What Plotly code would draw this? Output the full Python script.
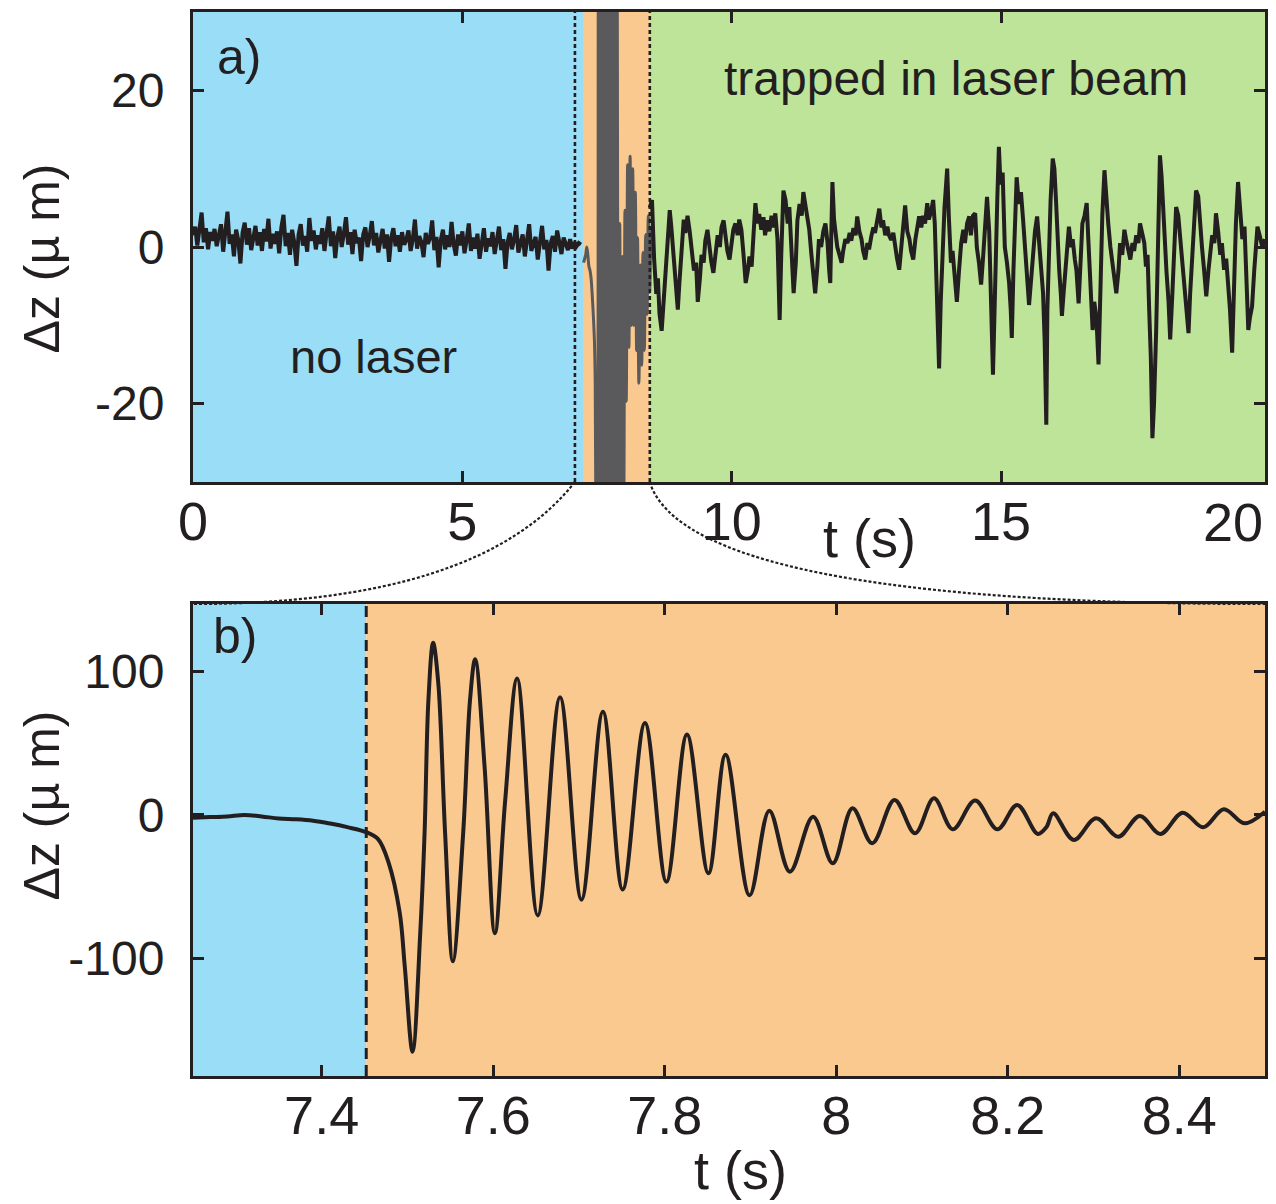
import plotly.graph_objects as go

# ---------------- data ----------------
# (a) free particle before the laser is switched on, sampled every 0.04 s from t = 0
free_dt = 0.04
free_z = [
    1.5, 2.6, 0.2, 2.2, 4.4, 0.6, 2.4, -0.3, 1.9, 0.8,
    2.3, 0.1, 1.7, 2.9, -0.6, 2.1, 4.5, 0.4, 1.6, -1.2,
    2.2, 0.9, -2.1, 1.8, 3.1, 0.3, 2.4, -0.4, 1.5, 2.7,
    0.2, 1.9, -0.5, 2.3, 0.7, 3.6, -0.2, 1.7, 0.4, 2.0,
    -0.8, 2.5, 4.1, 0.1, 1.8, -1.0, 2.2, 0.6, -2.4, 1.6,
    2.9, 0.2, 1.4, -0.6, 3.7, 0.8, 2.1, -0.3, 1.5, 0.4,
    2.4, -0.5, 1.8, 3.9, 0.1, 2.0, -1.4, 1.3, 2.6, 0.0,
    1.7, 3.8, 0.3, 1.9, -0.9, 2.2, 0.5, 1.2, -1.8, 1.6,
    2.5, 0.0, 1.4, 3.3, 0.2, 1.8, -0.7, 1.1, 2.3, -0.2,
    1.6, -1.9, 1.2, 2.4, 0.1, 1.5, -0.6, 1.9, 0.3, 0.9,
    2.1, -0.5, 1.0, 3.5, -0.2, 1.4, 0.6, -1.3, 1.8, 0.4,
    1.1, 3.4, -0.4, 1.3, -2.6, 0.9, 2.2, -0.3, 1.5, 0.0,
    3.2, 0.3, -1.1, 1.6, 0.2, 2.0, -0.8, 0.9, 3.0, -0.5,
    1.2, -0.2, 1.7, -1.5, 0.8, 2.4, -0.6, 1.1, 0.1, 1.9,
    -0.9, 0.7, 2.6, -0.4, 1.0, -2.8, 0.6, 1.8, -0.3, 0.9,
    2.8, -0.7, 0.5, 1.6, -1.2, 0.8, 2.9, -0.5, 0.4, 1.3,
    -1.6, 0.6, 2.7, -0.3, 0.9, -3.0, 0.5, 1.4, -0.6, 2.1,
    0.2, -0.9, 1.2, 0.4, -0.4, 1.0, -0.2, 0.6, 0.1, 0.5,
    0.3,
]
free_t = [i * free_dt for i in range(len(free_z))]

# (a) particle trapped in the laser beam
trap_t = [
    8.48, 8.52, 8.56, 8.60, 8.63, 8.66, 8.70, 8.74, 8.78, 8.81, 8.85, 8.88, 8.92, 8.96,
    9.00, 9.03, 9.07, 9.11, 9.14, 9.18, 9.22, 9.26, 9.30, 9.34, 9.37, 9.41, 9.44, 9.48,
    9.51, 9.55, 9.59, 9.62, 9.66, 9.70, 9.74, 9.78, 9.81, 9.85, 9.89, 9.92, 9.96,
    10.00, 10.03, 10.07, 10.11, 10.14, 10.18, 10.22, 10.26, 10.30, 10.33, 10.37, 10.40,
    10.44, 10.48, 10.51, 10.55, 10.59, 10.62, 10.66, 10.70, 10.74, 10.77, 10.81, 10.85,
    10.89, 10.92, 10.96, 11.00, 11.04, 11.07, 11.11, 11.15, 11.19, 11.22, 11.26, 11.30,
    11.33, 11.37, 11.41, 11.44, 11.48, 11.51, 11.55, 11.59, 11.62, 11.66, 11.70, 11.74,
    11.78, 11.81, 11.83, 11.85, 11.87, 11.90, 11.93, 11.96, 12.00, 12.04, 12.07, 12.11,
    12.15, 12.19, 12.22, 12.26, 12.30, 12.33, 12.37, 12.41, 12.44, 12.48, 12.52, 12.55,
    12.59, 12.63, 12.66, 12.70, 12.74, 12.78, 12.81, 12.85, 12.89, 12.92, 12.96, 13.00,
    13.04, 13.07, 13.11, 13.15, 13.18, 13.22, 13.26, 13.30, 13.33, 13.37, 13.41, 13.44,
    13.48, 13.52, 13.55, 13.59, 13.63, 13.66, 13.70, 13.74, 13.77, 13.80, 13.83, 13.85,
    13.88, 13.91, 13.95, 13.98, 14.00, 14.03, 14.07, 14.10, 14.14, 14.18, 14.22, 14.26,
    14.30, 14.33, 14.37, 14.41, 14.44, 14.48, 14.52, 14.55, 14.59, 14.63, 14.67, 14.70,
    14.74, 14.78, 14.81, 14.85, 14.88, 14.90, 14.93, 14.96, 14.99, 15.03, 15.07, 15.11,
    15.15, 15.18, 15.20, 15.23, 15.26, 15.29, 15.33, 15.37, 15.41, 15.44, 15.48, 15.52,
    15.56, 15.59, 15.63, 15.67, 15.70, 15.74, 15.78, 15.81, 15.84, 15.86, 15.89, 15.92,
    15.96, 15.99, 16.02, 16.04, 16.08, 16.11, 16.13, 16.16, 16.20, 16.23, 16.26, 16.30,
    16.33, 16.37, 16.40, 16.44, 16.48, 16.51, 16.55, 16.59, 16.62, 16.66, 16.70, 16.73,
    16.77, 16.81, 16.84, 16.88, 16.92, 16.95, 16.99, 17.03, 17.07, 17.10, 17.14, 17.18,
    17.21, 17.25, 17.29, 17.32, 17.36, 17.40, 17.44, 17.47, 17.51, 17.55, 17.58, 17.62,
    17.66, 17.69, 17.72, 17.75, 17.78, 17.81, 17.84, 17.88, 17.91, 17.95, 17.98, 18.01,
    18.03, 18.07, 18.11, 18.14, 18.18, 18.21, 18.25, 18.29, 18.32, 18.36, 18.40, 18.44,
    18.48, 18.51, 18.55, 18.59, 18.62, 18.66, 18.70, 18.73, 18.77, 18.81, 18.85, 18.88,
    18.92, 18.96, 18.99, 19.03, 19.07, 19.10, 19.14, 19.18, 19.21, 19.25, 19.29, 19.32,
    19.36, 19.40, 19.44, 19.48, 19.52, 19.55, 19.59, 19.62, 19.66, 19.70, 19.73, 19.76,
    19.80, 19.85, 19.90,
]
trap_z = [
    5.0, 6.0, -1.5, -6.0, -4.0, -8.5, -10.7, -6.5, -3.3, 1.5, 4.7, 2.5, -0.8, -5.0,
    -8.0, -4.5, 0.0, 3.5, 1.8, 4.0, 2.0, -0.8, -3.0, -2.0, -7.0, -4.0, -1.0, -2.0,
    0.8, 2.2, -0.5, -1.8, -3.3, -1.0, 1.5, 0.0, 2.5, 3.4, 1.0, -0.5, -1.6,
    1.0, 2.2, 3.0, 1.5, 3.5, 2.2, -1.0, -4.6, -3.0, -1.2, -2.5, 1.5,
    5.6, 3.0, 4.2, 2.2, 3.8, 1.5, 3.4, 2.0, 4.0, 2.5, 4.3, 1.0,
    -9.3, -1.0, 7.2, 6.0, 3.0, 5.1, 0.5, -5.9, -2.0, 3.4, 5.5, 4.0,
    7.0, 5.5, 3.5, 2.2, -1.0, -3.5, -5.9, -2.5, 1.0, 0.0, 2.0, 3.0,
    0.5, -3.0, -4.6, 2.0, 8.3, 3.5, 1.5, 0.0, -1.0, -2.0, -0.5, 1.0,
    0.5, 1.8, 0.8, 2.4, 1.5, 3.9, 2.0, 1.0, -0.5, -1.6, 0.5, -0.3,
    1.3, 2.5, 1.8, 3.5, 4.9, 2.5, 3.4, 1.5, 2.6, 1.5, 0.9, 1.8,
    -0.5, -1.5, -2.9, 0.5, 3.0, 5.3, 2.0, 1.0, -0.5, -1.6, 1.0, 2.0,
    3.9, 2.5, 4.0, 3.0, 5.6, 3.5, 4.5, 6.0, 3.0, -4.0, -10.0, -15.5,
    -7.0, -0.8, 5.0, 8.0, 10.0, 4.0, -2.0, -0.5, -4.5, -7.0, -3.0, 0.5,
    2.2, 0.5, 3.0, 3.9, 1.5, 4.0, 4.3, 0.0, -2.0, -4.8, -1.0, 3.0,
    6.4, 2.0, -6.0, -16.3, -8.0, -0.8, 6.0, 12.8, 8.0, 9.5, 0.0, -2.0,
    -4.6, -8.0, -11.6, -3.0, 4.0, 8.9, 5.5, 7.0, 3.4, 0.0, -3.5, -7.4,
    -4.0, -1.0, 2.0, 3.9, 1.0, -2.0, -5.9, -12.0, -22.7, -8.0, 0.0, 6.0,
    11.3, 10.0, 6.0, 2.2, -3.0, -6.0, -8.8, -6.0, -2.0, 1.0, 2.6, 0.0,
    1.0, -1.6, -3.0, -7.2, -2.0, 3.0, 4.0, 5.6, 1.0, -4.0, -10.6, -7.0,
    -9.0, -15.0, -5.0, 4.0, 9.8, 6.0, 3.0, 0.0, -2.0, -4.0, -5.9, -3.0,
    0.5, -1.0, 2.2, 1.0, -0.5, -1.6, 0.5, -0.5, 1.5, 0.5, 3.0, 1.5,
    0.5, -2.5, -1.0, -8.0, -14.0, -24.4, -20.0, -10.6, -1.0, 11.7, 9.0, 4.0,
    1.7, -3.0, -7.0, -11.8, -6.0, 0.0, 5.1, 4.0, 1.5, -1.6, -4.0, -8.0,
    -11.0, -6.0, -1.0, 4.0, 7.2, 6.5, 2.0, 0.0, -3.0, -6.3, -3.0, -1.0,
    1.5, 0.5, 4.3, 2.0, -1.0, 0.5, -2.9, -1.5, -4.0, -8.0, -13.5, -4.0,
    3.0, 8.3, 4.0, 1.0, 2.6, -3.0, -10.6, -9.0, -7.6, -3.0, 0.5, 2.6,
    1.5, 0.0, 1.0,
]

# (b) zoom on the capture: turning points of the damped oscillation
zoom_t = [
    7.250, 7.270, 7.290, 7.310, 7.330, 7.350, 7.370, 7.390, 7.410, 7.430, 7.452,
    7.466, 7.478, 7.491, 7.497, 7.506, 7.515, 7.520, 7.5245, 7.530, 7.536, 7.544,
    7.553, 7.565, 7.573, 7.579, 7.590, 7.602, 7.614, 7.628, 7.652, 7.678, 7.703,
    7.728, 7.751, 7.777, 7.802, 7.826, 7.851, 7.871, 7.899, 7.922, 7.946, 7.973,
    7.996, 8.019, 8.042, 8.068, 8.092, 8.114, 8.136, 8.162, 8.188, 8.211, 8.235,
    8.245, 8.253, 8.277, 8.303, 8.329, 8.354, 8.378, 8.404, 8.428, 8.452, 8.476,
    8.500,
]
zoom_z = [
    -2.0, -1.5, -1.0, 0.0, -1.0, -2.5, -3.0, -4.0, -6.0, -8.5, -12.0,
    -17.0, -33.0, -68.0, -106.0, -165.0, -82.0, -13.0, 80.0, 120.0, 92.0, -13.0,
    -102.0, -13.0, 80.0, 108.5, 33.7, -82.5, 10.0, 95.0, -70.0, 82.0, -59.0,
    72.0, -52.0, 64.0, -46.5, 56.0, -40.6, 42.0, -56.0, 3.0, -39.5, -1.2,
    -33.7, 4.7, -19.7, 10.5, -12.8, 11.6, -10.0, 10.0, -10.0, 7.0, -13.2,
    -8.6, 1.2, -17.4, -2.3, -15.1, -0.7, -13.2, 1.6, -8.6, 4.0, -5.8,
    2.3,
]

# time markers (s)
zoom_window = [7.09, 8.48]     # dotted markers in (a)
laser_on_a = 7.24              # start of the laser segment in (a)
laser_on_b = 7.452             # laser switched on, (b)

top_xticks = [0, 5, 10, 15]
top_yticks = [-20, 0, 20]
top_ytext = ["-20", "0", "20"]
bot_xticks = [7.4, 7.6, 7.8, 8.0, 8.2, 8.4]
bot_xtext = ["7.4", "7.6", "7.8", "8", "8.2", "8.4"]
bot_yticks = [-100, 0, 100]
bot_ytext = ["-100", "0", "100"]

# ---------------- style ----------------
W, H = 1276, 1204
ML, MR, MT, MB = 193, 8, 12, 128
BLACK = "#231F20"
GRAY = "#5A5A5C"
BLUE = "#99DDF7"
ORANGE = "#FAC98F"
GREEN = "#BEE499"
FONT = "Liberation Sans, Arial, Helvetica, sans-serif"


def px(x):
    return (x - ML) / (W - ML - MR)


def py(y):
    return (H - MB - y) / (H - MT - MB)


TOP_DOMAIN = [py(482), 1.0]
BOT_DOMAIN = [0.0, py(604)]

fig = go.Figure()

# ---- panel (a) ----
fig.add_trace(go.Scatter(x=free_t, y=free_z, mode="lines",
                         line=dict(color=BLACK, width=4),
                         xaxis="x", yaxis="y", showlegend=False))
fig.add_trace(go.Scatter(x=zoom_t, y=zoom_z, mode="lines",
                         line=dict(color=GRAY, width=3, shape="spline", smoothing=1.0),
                         xaxis="x", yaxis="y", showlegend=False))
fig.add_trace(go.Scatter(x=trap_t, y=trap_z, mode="lines",
                         line=dict(color=BLACK, width=4),
                         xaxis="x", yaxis="y", showlegend=False))

# ---- panel (b) ----
fig.add_trace(go.Scatter(x=zoom_t, y=zoom_z, mode="lines",
                         line=dict(color=BLACK, width=4, shape="spline", smoothing=1.0),
                         xaxis="x2", yaxis="y2", showlegend=False))

shapes = [
    # background regions (a)
    dict(type="rect", xref="x", yref="y domain", x0=0, x1=laser_on_a, y0=0, y1=1,
         fillcolor=BLUE, line_width=0, layer="below"),
    dict(type="rect", xref="x", yref="y domain", x0=laser_on_a, x1=zoom_window[1], y0=0, y1=1,
         fillcolor=ORANGE, line_width=0, layer="below"),
    dict(type="rect", xref="x", yref="y domain", x0=zoom_window[1], x1=20, y0=0, y1=1,
         fillcolor=GREEN, line_width=0, layer="below"),
    # background regions (b)
    dict(type="rect", xref="x2", yref="y2 domain", x0=7.25, x1=laser_on_b, y0=0, y1=1,
         fillcolor=BLUE, line_width=0, layer="below"),
    dict(type="rect", xref="x2", yref="y2 domain", x0=laser_on_b, x1=8.5, y0=0, y1=1,
         fillcolor=ORANGE, line_width=0, layer="below"),
    # zoom window markers in (a)
    dict(type="line", xref="x", yref="y domain", x0=zoom_window[0], x1=zoom_window[0], y0=0, y1=1,
         line=dict(color=BLACK, width=2.6, dash="4px,3px")),
    dict(type="line", xref="x", yref="y domain", x0=zoom_window[1], x1=zoom_window[1], y0=0, y1=1,
         line=dict(color=BLACK, width=2.6, dash="4px,3px")),
    # laser switch-on in (b)
    dict(type="line", xref="x2", yref="y2 domain", x0=laser_on_b, x1=laser_on_b, y0=0, y1=1,
         line=dict(color=BLACK, width=3, dash="11px,6px")),
]

# connector curves from panel (a) window to panel (b)
xa0 = px(ML + zoom_window[0] * 54.0)
xa1 = px(ML + zoom_window[1] * 54.0)
ya = py(482)
yb = py(604)
shapes.append(dict(type="path", xref="paper", yref="paper",
                   path=f"M {xa0},{ya} Q {px(480)},{yb} {px(193)},{yb}",
                   line=dict(color=BLACK, width=2.2, dash="3px,2px")))
shapes.append(dict(type="path", xref="paper", yref="paper",
                   path=f"M {xa1},{ya} Q {px(690)},{yb} {px(1268)},{yb}",
                   line=dict(color=BLACK, width=2.2, dash="3px,2px")))

axis_common = dict(showline=True, linecolor=BLACK, linewidth=3, mirror="ticks",
                   ticks="inside", ticklen=11, tickwidth=2.5, tickcolor=BLACK,
                   showgrid=False, zeroline=False)

fig.update_layout(
    width=W, height=H,
    margin=dict(l=ML, r=MR, t=MT, b=MB, pad=0),
    paper_bgcolor="white", plot_bgcolor="white",
    font=dict(family=FONT, color=BLACK),
    shapes=shapes,
    xaxis=dict(axis_common, domain=[0, 1], anchor="y", range=[0, 19.9],
               tickvals=top_xticks, tickfont=dict(size=54), ticklabelstandoff=-10),
    yaxis=dict(axis_common, domain=TOP_DOMAIN, anchor="x", range=[-30, 30],
               tickvals=top_yticks, ticktext=top_ytext, tickfont=dict(size=48),
               ticklabelstandoff=16),
    xaxis2=dict(axis_common, domain=[0, 1], anchor="y2", range=[7.25, 8.5],
                tickvals=bot_xticks, ticktext=bot_xtext, tickfont=dict(size=54),
                ticklabelstandoff=-10),
    yaxis2=dict(axis_common, domain=BOT_DOMAIN, anchor="x2", range=[-181.9, 147.0],
                tickvals=bot_yticks, ticktext=bot_ytext, tickfont=dict(size=48),
                ticklabelstandoff=16),
)

ann = [
    dict(text="a)", x=0.85, y=24.2, xref="x", yref="y", font=dict(size=50)),
    dict(text="no laser", x=3.35, y=-14.0, xref="x", yref="y", font=dict(size=47)),
    dict(text="trapped in laser beam", x=14.17, y=21.5, xref="x", yref="y", font=dict(size=48)),
    dict(text="b)", x=7.2995, y=124.7, xref="x2", yref="y2", font=dict(size=50)),
    # last tick label of (a) sits inside the right edge
    dict(text="20", x=19.9, xanchor="right", y=py(522), yref="paper", xref="x",
         font=dict(size=54)),
    # axis titles
    dict(text="t (s)", x=px(871), y=py(538), xref="paper", yref="paper", font=dict(size=54)),
    dict(text="t (s)", x=px(742), y=py(1170), xref="paper", yref="paper", font=dict(size=54)),
    dict(text="\u0394z (\u00b5 m)", x=px(42), y=py(258), xref="paper", yref="paper",
         textangle=-90, font=dict(size=50)),
    dict(text="\u0394z (\u00b5 m)", x=px(42), y=py(805), xref="paper", yref="paper",
         textangle=-90, font=dict(size=50)),
]
for a in ann:
    a.setdefault("showarrow", False)
    a.setdefault("xanchor", "center")
    a.setdefault("yanchor", "middle")
fig.update_layout(annotations=ann)

fig.write_html("out.html")
